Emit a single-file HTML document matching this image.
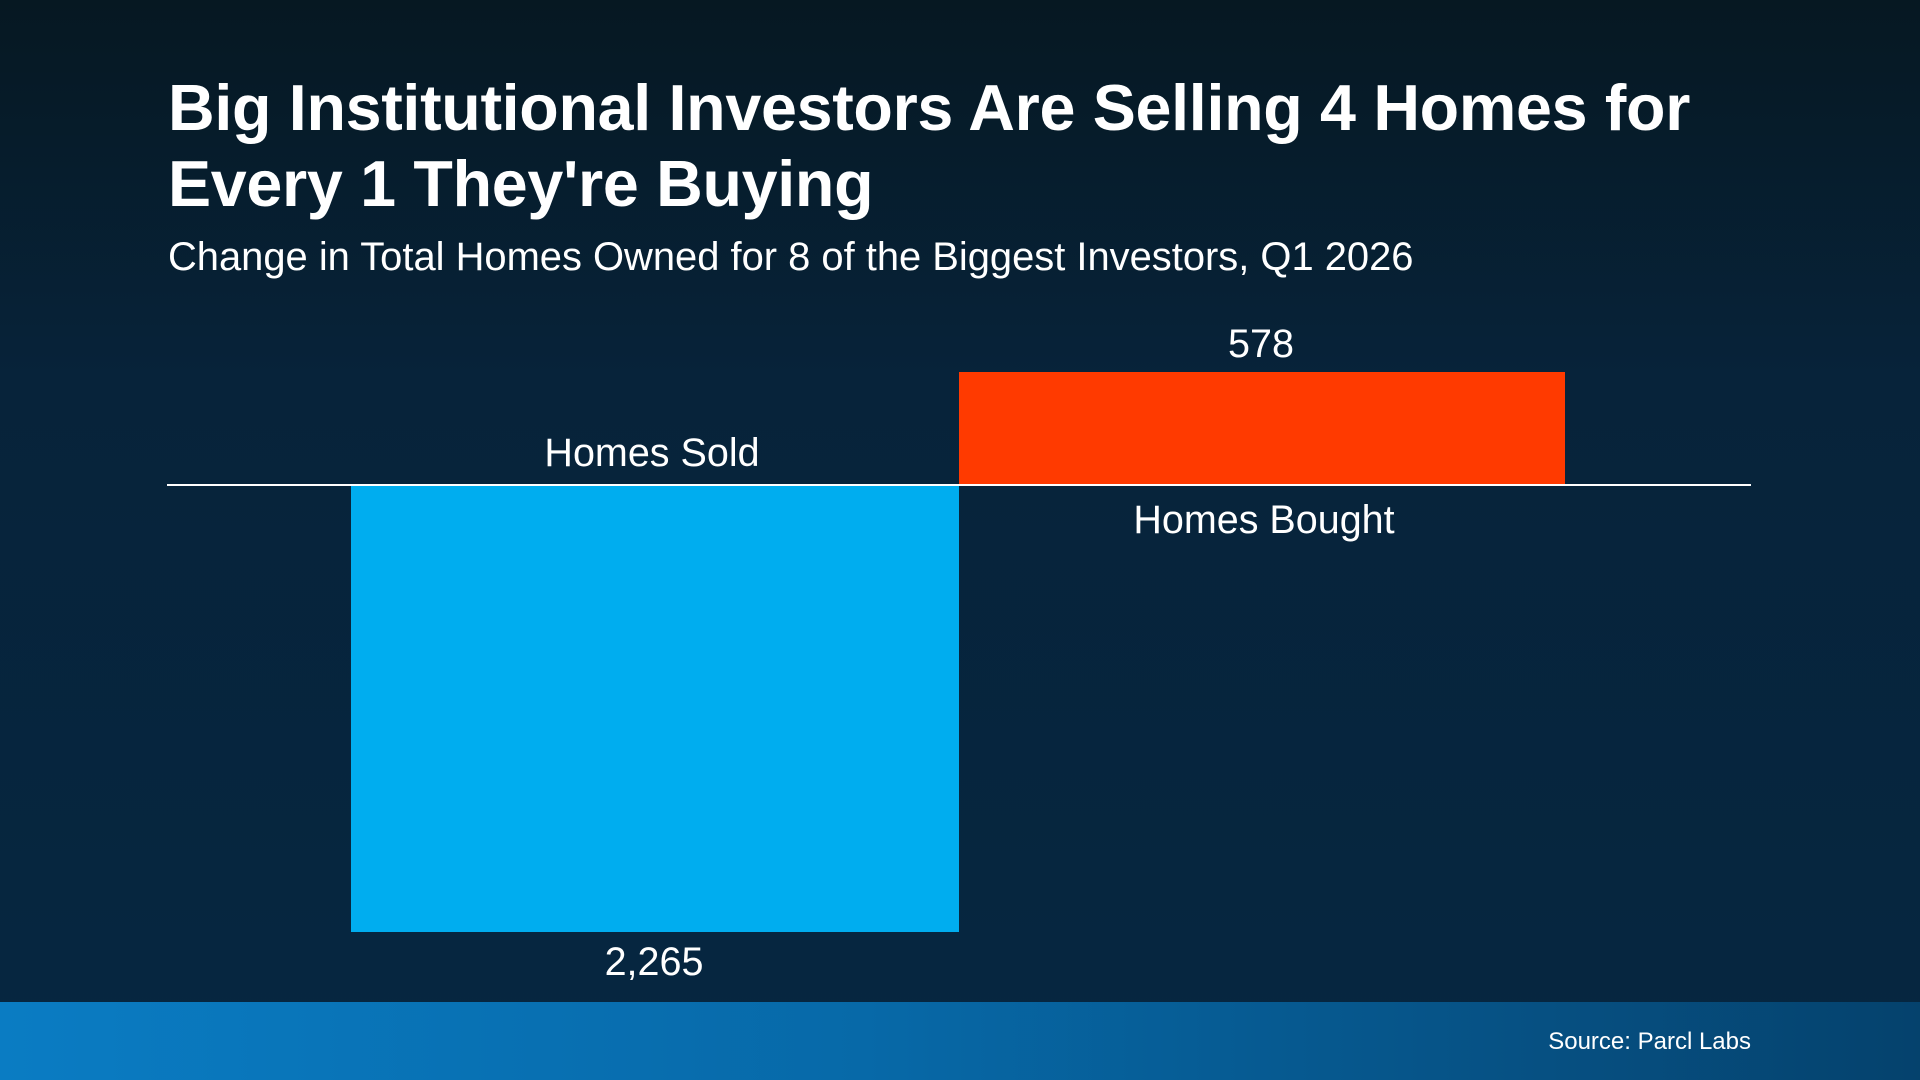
<!DOCTYPE html>
<html><head><meta charset="utf-8"><style>
html,body{margin:0;padding:0}
body{width:1920px;height:1080px;position:relative;overflow:hidden;font-family:"Liberation Sans",Arial,sans-serif;color:#fff;
background:linear-gradient(180deg,#061822 0%,#07233a 35%,#062741 100%);}
.t{position:absolute;left:168px;top:70px;font-size:64.6px;font-weight:bold;line-height:76px;letter-spacing:-0.3px}
.s{position:absolute;left:168px;top:234px;font-size:39.9px;line-height:46px}
.axis{position:absolute;left:167px;top:484px;width:1584px;height:2px;background:#fff}
.bar{position:absolute}
.lab{position:absolute;font-size:39.5px;line-height:44px;text-align:center;width:600px;margin-left:-300px}
.foot{position:absolute;left:0;top:1002px;width:1920px;height:78px;background:linear-gradient(90deg,#0a7cc3 0%,#0769a8 45%,#05426d 100%)}
.src{position:absolute;right:169px;top:1028px;font-size:24px}
</style></head><body>
<div class="t">Big Institutional Investors Are Selling 4 Homes for<br>Every 1 They're Buying</div>
<div class="s">Change in Total Homes Owned for 8 of the Biggest Investors, Q1 2026</div>
<div class="bar" style="left:959px;top:372px;width:606px;height:113px;background:#ff3a00"></div>
<div class="bar" style="left:351px;top:486px;width:608px;height:446px;background:#00adef"></div>
<div class="axis"></div>
<div class="lab" style="left:1261px;top:322px">578</div>
<div class="lab" style="left:652px;top:431px">Homes Sold</div>
<div class="lab" style="left:1264px;top:498px">Homes Bought</div>
<div class="lab" style="left:654px;top:940px">2,265</div>
<div class="foot"></div>
<div class="src">Source: Parcl Labs</div>
</body></html>
